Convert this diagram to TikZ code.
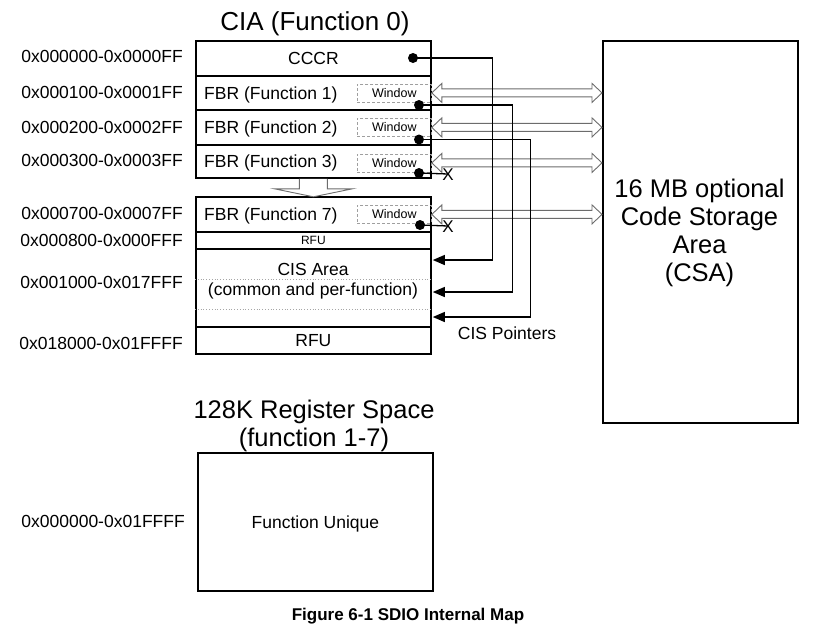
\documentclass[tikz,border=0pt]{standalone}
\usepackage{fontspec}
\setmainfont{Liberation Sans}
\usetikzlibrary{arrows.meta,calc}
\newcommand\szmain{\fontsize{17.5pt}{20pt}\selectfont}
\newcommand\szbig{\fontsize{25.5pt}{27.8pt}\selectfont}
\newcommand\szwin{\fontsize{12.5pt}{14pt}\selectfont}
\newcommand\szcap{\fontsize{17pt}{20pt}\selectfont\bfseries}
\newcommand\hollowdbl[2]{%
  \draw[harrow] let \p1=(#1), \p2=(#2) in
    (\x1,\y1) -- (\x1+10pt,\y1+9.5pt) -- (\x1+10pt,\y1+4pt) -- (\x2-10pt,\y1+4pt)
    -- (\x2-10pt,\y1+9.5pt) -- (\x2,\y1) -- (\x2-10pt,\y1-9.5pt) -- (\x2-10pt,\y1-4pt)
    -- (\x1+10pt,\y1-4pt) -- (\x1+10pt,\y1-9.5pt) -- cycle;}
\begin{document}
\begin{tikzpicture}[x=1pt,y=-1pt,
  txt/.style={inner sep=0pt, text height=12.5pt, text depth=0pt, font=\szmain},
  row/.style={draw, line width=1.8pt, minimum width=235pt, inner sep=0pt, anchor=north west, txt},
  win/.style={draw=gray!75, dashed, dash pattern=on 3pt off 2pt, line width=0.8pt, minimum width=74pt, minimum height=18pt, inner sep=0pt, anchor=east, text height=9pt, text depth=0pt, font=\szwin},
  dot/.style={circle, fill=black, inner sep=0pt, minimum size=10pt},
  ptr/.style={line width=1.3pt},
  ptrarr/.style={ptr, -{Triangle[length=12pt,width=10pt]}},
  harrow/.style={draw=gray!85!black, line width=0.9pt, fill=white},
  dotline/.style={draw=gray!70, dotted, line width=0.8pt},
  addr/.style={txt, anchor=east},
  xmark/.style={inner sep=0pt, text height=12.2pt, text depth=0pt, font=\fontsize{17pt}{18pt}\selectfont}
]
\useasboundingbox (0,0) rectangle (814,630);

% ---- CIA map ----
\node[inner sep=0pt, text height=18.6pt, text depth=0pt, font=\fontsize{26pt}{28pt}\selectfont] (title) at (315,21) {CIA (Function 0)};
\node[row, minimum height=35pt] (cccr) at (195,40) {CCCR};
\node[row, minimum height=34pt] (fbr1) at (195,75) {};
\node[row, minimum height=35pt] (fbr2) at (195,109) {};
\node[row, minimum height=33pt] (fbr3) at (195,144) {};
\node[row, minimum height=35pt] (fbr7) at (195,196) {};
\node[row, minimum height=17pt, text height=8.6pt, font=\fontsize{12pt}{14pt}\selectfont] (rfu1) at (195,231) {RFU};
\node[row, minimum height=78pt] (cis) at (195,248) {};
\node[row, minimum height=27pt] (rfu2) at (195,326) {RFU};

\node[txt, anchor=west] at ([xshift=9pt]fbr1.west) {FBR (Function 1)};
\node[txt, anchor=west] at ([xshift=9pt]fbr2.west) {FBR (Function 2)};
\node[txt, anchor=west] at ([xshift=9pt]fbr3.west) {FBR (Function 3)};
\node[txt, anchor=west] at ([xshift=9pt]fbr7.west) {FBR (Function 7)};

\node[win] (w1) at (fbr1.east) {Window};
\node[win] (w2) at (fbr2.east) {Window};
\node[win] (w3) at ([yshift=-1.5pt]fbr3.east) {Window};
\node[win] (w7) at (fbr7.east) {Window};

\draw[dotline] (cis.west |- 0,279) -- (cis.east |- 0,279);
\draw[dotline] (cis.west |- 0,309) -- (cis.east |- 0,309);
\node[align=center, inner sep=0pt, font=\szmain] (cistext) at (313,281)
  {CIS Area\\(common and per-function)};

% hollow down arrow
\draw[harrow] let \p1=(fbr3.south) in
  (\x1-14pt,\y1) -- (\x1-14pt,\y1-10pt) -- (\x1-39pt,\y1-10pt) -- (\x1,\y1-18pt)
  -- (\x1+39pt,\y1-10pt) -- (\x1+14pt,\y1-10pt) -- (\x1+14pt,\y1);

% ---- address labels ----
\node[addr] at (183,56) {0x000000-0x0000FF};
\node[addr] at (183,92) {0x000100-0x0001FF};
\node[addr] at (183,127) {0x000200-0x0002FF};
\node[addr] at (183,160) {0x000300-0x0003FF};
\node[addr] at (183,213) {0x000700-0x0007FF};
\node[addr] at (183,240) {0x000800-0x000FFF};
\node[addr] at (183,282) {0x001000-0x017FFF};
\node[addr] at (183,343) {0x018000-0x01FFFF};

% ---- CSA ----
\node[draw, line width=1.8pt, minimum width=195pt, minimum height=382pt, anchor=north west, inner sep=0pt] (csa) at (602,40) {};
\node[align=center, inner sep=0pt, font=\szbig] (csatext) at (699.5,233)
  {16 MB optional\\Code Storage\\Area\\(CSA)};

% ---- window <-> CSA arrows ----
\hollowdbl{w1.east}{csa.west |- w1.east}
\hollowdbl{w2.east}{csa.west |- w2.east}
\hollowdbl{w3.east}{csa.west |- w3.east}
\hollowdbl{w7.east}{csa.west |- w7.east}

% ---- CIS pointers ----
\node[dot] (d0) at (413,58) {};
\node[dot] (d1) at (419,105) {};
\node[dot] (d2) at (419,139.5) {};
\node[dot] (d3) at (419,173) {};
\node[dot] (d7) at (420,225) {};
\coordinate (t0) at (cis.east |- 0,260);
\coordinate (t1) at (cis.east |- 0,292);
\coordinate (t2) at (cis.east |- 0,317);
\draw[ptrarr] (d0.center) -| ([xshift=61pt]t0) -- ([xshift=1pt]t0);
\draw[ptrarr] (d1.center) -| ([xshift=81pt]t1) -- ([xshift=1pt]t1);
\draw[ptrarr] (d2.center) -| ([xshift=99pt]t2) -- ([xshift=1pt]t2);
\node[xmark] (x3) at (448,174) {X};
\node[xmark] (x7) at (448,226) {X};
\draw[ptr] (d3.center) -- (x3.center);
\draw[ptr] (d7.center) -- (x7.center);
\node[txt] (cisp) at (507,333) {CIS Pointers};

% ---- 128K register space ----
\node[align=center, inner sep=0pt, font=\szbig] (regtitle) at (314,426)
  {128K Register Space\\(function 1-7)};
\node[draw, line width=1.8pt, minimum width=235pt, minimum height=138pt, anchor=north west, inner sep=0pt, txt] (fu) at (197,452) {Function Unique};
\node[addr] at (185,521) {0x000000-0x01FFFF};

% ---- caption ----
\node[inner sep=0pt, text height=12.2pt, text depth=0pt, font=\szcap] (cap) at (408,614) {Figure 6-1 SDIO Internal Map};
\end{tikzpicture}
\end{document}
